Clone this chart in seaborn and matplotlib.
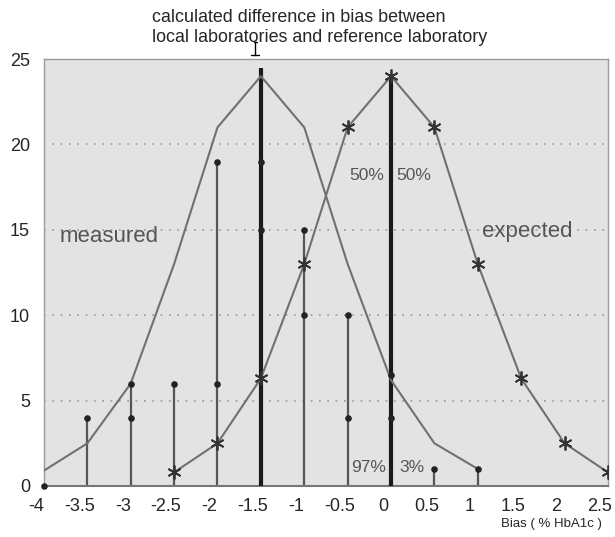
import numpy as np
import pandas as pd
import matplotlib
matplotlib.use('Agg')
import matplotlib.pyplot as plt
import matplotlib.transforms as mtransforms
from matplotlib.lines import Line2D
import seaborn as sns

# curve data
bias = [-4, -3.5, -3, -2.5, -2, -1.5, -1, -0.5, 0, 0.5, 1]
measured = [0.9, 2.5, 6, 13, 21, 24, 21, 13, 6.2, 2.5, 1]
bias_exp = [-2.5, -2, -1.5, -1, -0.5, 0, 0.5, 1, 1.5, 2, 2.5]
expected = [0.8, 2.5, 6.3, 13, 21, 24, 21, 13, 6.3, 2.5, 0.8]

# thin bars with dots
bar_x = [-3.5, -3, -2.5, -2, -1, -0.5, 0.5, 1]
bar_top = [4, 6, 6, 19, 15, 10, 1, 1]
dot_x = [-4, -3.5, -3, -3, -2.5, -2, -2, -1.5, -1.5, -1, -1, -0.5, -0.5, 0, 0, 0.5, 1]
dot_y = [0, 4, 6, 4, 6, 19, 6, 19, 15, 15, 10, 10, 4, 6.5, 4, 1, 1]

# thick lines: calculated difference and expected centre
thick_x = [-1.5, 0]
thick_top = [24.5, 24]

xticks = [-4, -3.5, -3, -2.5, -2, -1.5, -1, -0.5, 0, 0.5, 1, 1.5, 2, 2.5]
xtick_labels = ['-4', '-3.5', '-3', '-2.5', '-2', '-1.5', '-1', '-0.5', '0', '0.5', '1', '1.5', '2', '2.5']
yticks = [0, 5, 10, 15, 20, 25]

sns.set_style('white')
plt.rcParams['font.family'] = ['Liberation Sans', 'DejaVu Sans']

fig = plt.figure(figsize=(6.15, 5.37), dpi=100)
ax = fig.add_axes([0.0715, 0.095, 0.917, 0.795])
ax.set_facecolor('#e3e3e3')

for y in [5, 10, 15, 20]:
    ax.axhline(y, color='#9a9a9a', lw=1.2, linestyle=(0, (1, 4)), zorder=1)

df_m = pd.DataFrame({'bias': bias, 'n': measured})
df_e = pd.DataFrame({'bias': bias_exp, 'n': expected})

ax.vlines(bar_x, 0, bar_top, color='#555555', lw=1.6, zorder=2)
ax.vlines(thick_x, 0, thick_top, color='#1a1a1a', lw=3, zorder=3)

sns.lineplot(data=df_m, x='bias', y='n', color='#707070', lw=1.5, ax=ax, zorder=4)
sns.lineplot(data=df_e, x='bias', y='n', color='#707070', lw=1.5, ax=ax, zorder=4,
             marker=(6, 2, 0), markersize=10, markeredgecolor='#333333', markeredgewidth=1.3)
ax.scatter(dot_x, dot_y, s=14, color='#222222', zorder=5, clip_on=False)

ax.set_xlim(-4, 2.5)
ax.set_ylim(0, 25)
ax.set_xticks(xticks)
ax.set_xticklabels(xtick_labels, fontsize=13)
ax.set_yticks(yticks)
ax.set_yticklabels([str(v) for v in yticks], fontsize=13)
ax.tick_params(axis='both', length=0)
ax.tick_params(axis='x', pad=9)
ax.tick_params(axis='y', pad=10)
shift = mtransforms.ScaledTranslation(-0.08, 0, fig.dpi_scale_trans)
for lab in ax.get_xticklabels():
    lab.set_transform(lab.get_transform() + shift)
ax.set_xlabel('')
ax.set_ylabel('')

for side in ['top', 'right', 'left']:
    ax.spines[side].set_color('#9a9a9a')
    ax.spines[side].set_linewidth(1)
ax.spines['bottom'].set_color('#777777')
ax.spines['bottom'].set_linewidth(1.5)

txt = '#555555'
ax.text(-3.82, 14.6, 'measured', fontsize=16, color=txt, va='center', ha='left')
ax.text(1.05, 14.9, 'expected', fontsize=16, color=txt, va='center', ha='left')
ax.text(-0.08, 18.2, '50%', fontsize=12.5, color=txt, va='center', ha='right')
ax.text(0.06, 18.2, '50%', fontsize=12.5, color=txt, va='center', ha='left')
ax.text(-0.06, 1.1, '97%', fontsize=12.5, color=txt, va='center', ha='right')
ax.text(0.1, 1.1, '3%', fontsize=12.5, color=txt, va='center', ha='left')

fig.text(152 / 615, 1 - 18 / 537, 'calculated difference in bias between',
         fontsize=12.9, ha='left', va='center')
fig.text(152 / 615, 1 - 38 / 537, 'local laboratories and reference laboratory',
         fontsize=12.9, ha='left', va='center')

# small pointer mark linking the note to the thick line
W, H = 615, 537
for xs, ys in [([255, 255], [42, 55]), ([251, 259], [55, 55]), ([253.5, 256.5], [42, 42])]:
    fig.add_artist(Line2D([x / W for x in xs], [1 - y / H for y in ys],
                          transform=fig.transFigure, color='black', lw=1))

fig.text(0.978, 0.013, 'Bias ( % HbA1c )', fontsize=9.5, ha='right', va='bottom')

fig.savefig('out.png', dpi=100)
